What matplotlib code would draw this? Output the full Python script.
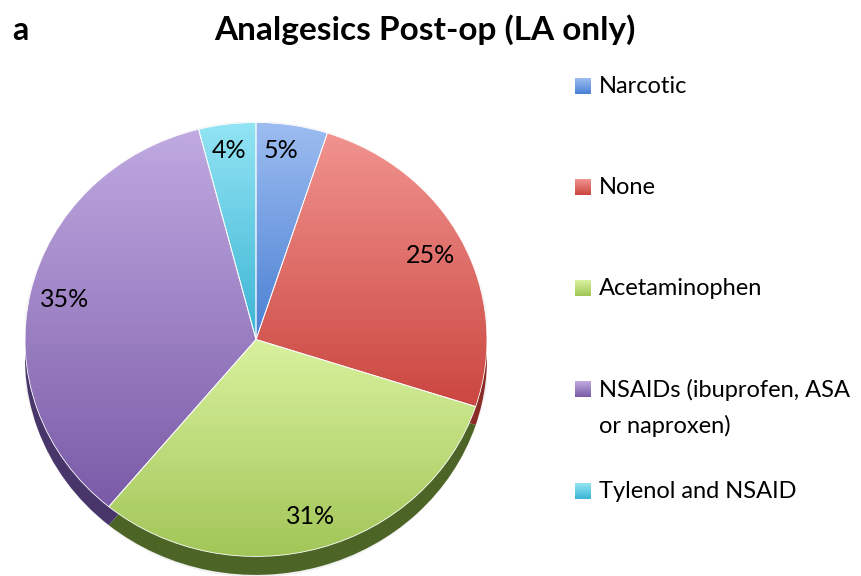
"""
Analgesics post-op (LA only) pie chart
"""

import numpy as np
import matplotlib
matplotlib.use('Agg')
import matplotlib.pyplot as plt
from matplotlib.colors import LinearSegmentedColormap
from matplotlib.patches import Ellipse

plt.rcParams['font.family'] = ['Lato', 'DejaVu Sans']

# data, clockwise from 12 o'clock
labels = ['Narcotic', 'None', 'Acetaminophen',
          'NSAIDs (ibuprofen, ASA\nor naproxen)', 'Tylenol and NSAID']
shares = [5, 25, 31, 35, 4]

# light (top) / dark (bottom) gradient ends, and side colour
top_colors = ['#9dbdf1', '#f1938f', '#d9f19e', '#c0aae1', '#92e4f3']
bottom_colors = ['#4a80d3', '#cb4640', '#a2c658', '#7a5aa7', '#3cb5d5']
side_colors = ['#2f5590', '#8a2b26', '#4c6526', '#48356a', '#257a90']

fig = plt.figure(figsize=(8.62, 5.76), dpi=100)

# pie axes: x from -1..1 over 462 px, y 1 unit = 217 px
ax = fig.add_axes([25 / 862, 0.0, 462 / 862, 2.09 * 217 / 576])

# faint glow behind the pie
ax.add_patch(Ellipse((0, -0.045), 2.025, 2.1, facecolor='#f0f0f0',
                     edgecolor='none', zorder=0))

# side of the disc: same pie shifted down
side, _ = ax.pie(shares, colors=side_colors, startangle=90, counterclock=False,
                 center=(0, -0.085), radius=1.0,
                 wedgeprops=dict(edgecolor='none'))
for w in side:
    w.set_zorder(1)

wedges, _, pct_texts = ax.pie(shares, colors=top_colors, startangle=90,
                              counterclock=False, radius=1.0,
                              autopct='%.0f%%', pctdistance=0.85,
                              wedgeprops=dict(edgecolor='white', linewidth=0.6),
                              textprops=dict(fontsize=18, color='black'))

# vertical gradient fill inside each wedge
for w, c_top, c_bot in zip(wedges, top_colors, bottom_colors):
    w.set_zorder(2)
    ext = w.get_path().get_extents()
    cmap = LinearSegmentedColormap.from_list('g', [c_bot, c_top])
    grad = np.linspace(0, 1, 256).reshape(-1, 1)
    im = ax.imshow(grad, cmap=cmap, origin='lower', aspect='auto',
                   extent=[ext.x0, ext.x1, ext.y0, ext.y1], zorder=3)
    im.set_clip_path(w)
    w.set_facecolor('none')
    w.set_zorder(4)

for t in pct_texts:
    t.set_zorder(5)
# nudge the small top labels outward a bit
pct_texts[0].set_position((0.11, 0.87))
pct_texts[4].set_position((-0.115, 0.87))

ax.set_aspect('auto')
ax.set_xlim(-1, 1)
ax.set_ylim(-1.09, 1.0)
ax.axis('off')

# titles
fig.text(12 / 862, 1 - 30 / 576, 'a', fontsize=23, fontweight='bold',
         ha='left', va='center')
fig.text(425 / 862, 1 - 30 / 576, 'Analgesics Post-op (LA only)', fontsize=24,
         fontweight='bold', ha='center', va='center')

# legend drawn by hand
legend_y = [86, 187, 288, 389, 491]
for lab, y, c_top, c_bot in zip(labels, legend_y, top_colors, bottom_colors):
    fy = 1 - y / 576
    sq = fig.add_axes([575 / 862, fy - 8 / 576, 16 / 862, 16 / 576])
    sq.imshow(np.linspace(0, 1, 32).reshape(-1, 1), origin='lower', aspect='auto',
              cmap=LinearSegmentedColormap.from_list('s', [c_bot, c_top]))
    sq.axis('off')
    fig.text(599 / 862, fy + 10 / 576, lab, fontsize=17, ha='left', va='top',
             linespacing=1.75)

fig.savefig('out.png', dpi=100)
